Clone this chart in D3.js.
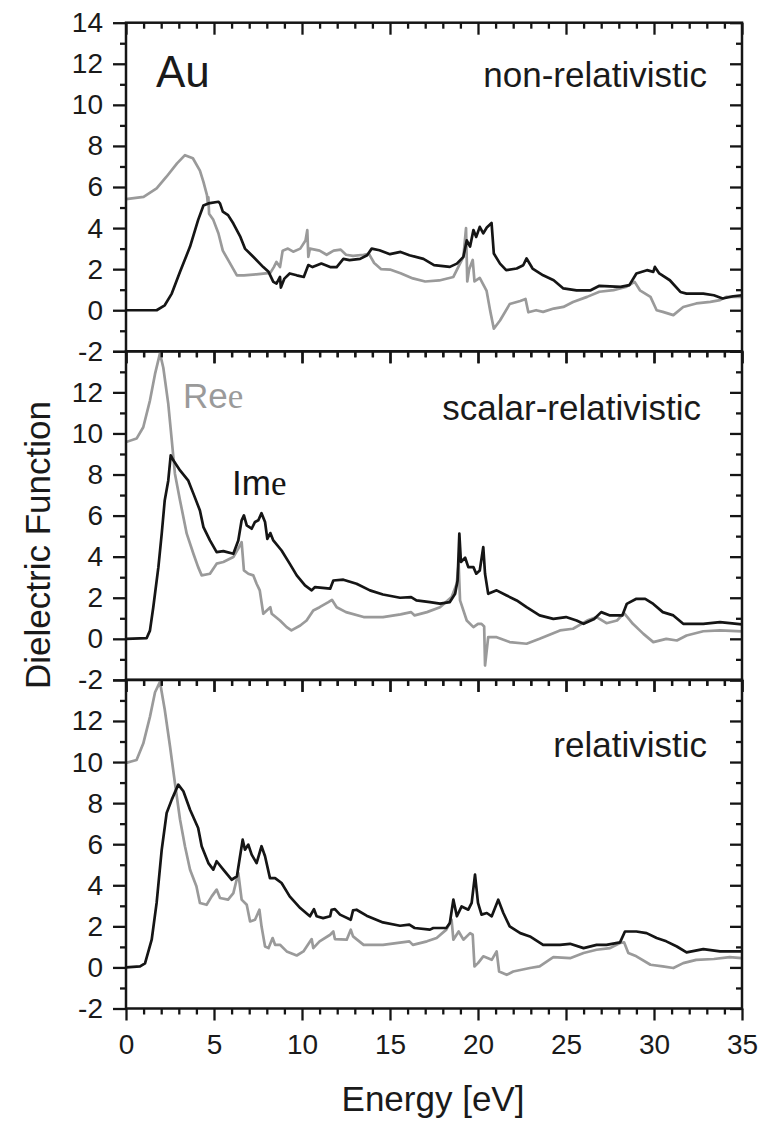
<!DOCTYPE html>
<html><head><meta charset="utf-8">
<script src="https://cdn.jsdelivr.net/npm/d3@7"></script>
<style>
body{margin:0;background:#fff}
svg{display:block}
text{font-family:"Liberation Sans",Arial,Helvetica,sans-serif;fill:#1a1a1a}
</style>
</head><body>
<svg id="c" width="771" height="1123"></svg>
<script>
// ---------- data ----------
const panelNames = ["non-relativistic", "scalar-relativistic", "relativistic"];
const xTicks = [0, 5, 10, 15, 20, 25, 30, 35];
const yTicks = [-2, 0, 2, 4, 6, 8, 10, 12, 14];

const nonRelRe = [[0,5.41],[1,5.52],[1.74,5.93],[2.3,6.5],[2.9,7.15],[3.35,7.55],[3.8,7.4],[4.2,6.8],[4.4,6.25],[4.6,5.6],[4.65,5.2],[4.68,5.5],[4.72,4.7],[4.96,4.4],[5.25,3.75],[5.5,2.9],[5.8,2.45],[6.3,1.7],[6.7,1.7],[7.4,1.75],[8.2,1.82],[8.4,2.1],[8.55,2.35],[8.75,2.1],[8.9,2.9],[9.2,3.0],[9.5,2.85],[9.9,3.0],[10.2,3.4],[10.3,3.9],[10.36,2.6],[10.45,3.0],[11.0,2.9],[11.4,2.7],[11.8,2.9],[12.2,2.95],[12.5,2.7],[12.9,2.65],[13.5,2.7],[13.8,2.75],[13.9,2.6],[14.1,2.3],[14.5,2.0],[15.0,1.98],[15.6,1.8],[16.3,1.55],[17.0,1.4],[17.8,1.45],[18.6,1.62],[19.17,2.6],[19.32,4.0],[19.39,1.4],[19.5,2.0],[19.7,2.45],[19.8,1.4],[20.1,1.57],[20.49,0.94],[20.69,-0.02],[20.9,-0.9],[21.25,-0.5],[21.8,0.3],[22.4,0.45],[22.7,0.55],[22.86,-0.1],[23.3,0],[23.7,-0.08],[24.3,0.08],[24.85,0.16],[25.4,0.4],[26.2,0.65],[26.9,0.9],[27.7,0.98],[28.4,1.13],[28.9,1.38],[29.2,0.97],[29.8,0.65],[30.15,0],[30.5,-0.08],[31.1,-0.24],[31.66,0.16],[32.4,0.33],[33.2,0.41],[33.75,0.49],[34.1,0.65],[35,0.65]];
const nonRelIm = [[0,0],[1.74,0],[2.2,0.24],[2.6,0.81],[3.07,1.87],[3.64,3.1],[4.1,4.4],[4.4,5.1],[4.68,5.2],[5.25,5.28],[5.34,5.2],[5.5,4.8],[5.8,4.63],[6.1,4.22],[6.5,3.57],[6.76,3.0],[7.23,2.6],[7.8,2.1],[8.1,1.87],[8.37,1.38],[8.55,1.3],[8.75,1.62],[8.8,1.1],[9.0,1.54],[9.3,1.79],[9.7,1.7],[10.1,1.62],[10.36,2.2],[10.6,2.1],[11.1,2.27],[11.6,2.1],[11.97,2.1],[12.35,2.5],[12.7,2.44],[13.3,2.5],[13.7,2.68],[13.96,3.0],[14.4,2.92],[15.0,2.73],[15.6,2.84],[16.1,2.68],[16.9,2.5],[17.5,2.2],[18.4,2.11],[18.8,2.27],[19.17,2.6],[19.36,3.4],[19.55,3.1],[19.74,3.9],[19.9,3.57],[20.1,4.06],[20.3,3.74],[20.5,4.03],[20.77,4.25],[20.9,2.76],[21.25,2.27],[21.6,1.95],[22.2,2.03],[22.57,2.19],[22.76,2.52],[23.1,2.03],[23.7,1.7],[24.3,1.46],[24.85,1.06],[25.6,0.97],[26.4,0.97],[26.9,1.19],[28.1,1.14],[28.6,1.22],[29.0,1.79],[29.6,1.95],[29.96,1.87],[30.05,2.11],[30.3,1.79],[30.9,1.46],[31.5,0.89],[31.85,0.81],[32.8,0.81],[33.4,0.73],[33.9,0.57],[34.5,0.68],[35,0.73]];

const scalarRe = [[0,9.58],[0.6,9.75],[0.98,10.3],[1.36,11.6],[1.65,12.9],[1.93,13.9],[2.12,13.2],[2.4,11.45],[2.6,9.67],[2.78,8.04],[3.07,6.74],[3.45,5.12],[3.83,4.14],[4.1,3.49],[4.3,3.09],[4.77,3.17],[5.15,3.66],[5.53,3.74],[6.1,3.98],[6.38,4.39],[6.57,4.71],[6.7,3.33],[6.95,3.17],[7.23,3.09],[7.42,2.68],[7.6,2.36],[7.8,1.22],[8.0,1.38],[8.2,1.54],[8.28,1.22],[8.75,0.89],[9.13,0.57],[9.4,0.41],[9.9,0.65],[10.26,0.89],[10.64,1.38],[11.0,1.54],[11.5,1.79],[11.7,1.9],[11.97,1.54],[12.5,1.3],[13.5,1.06],[14.6,1.06],[15.6,1.19],[16.2,1.3],[16.4,1.14],[17.1,1.3],[17.84,1.54],[18.5,2.03],[18.79,2.68],[18.9,3.65],[18.98,1.87],[19.36,0.89],[19.74,0.57],[20.0,0.73],[20.2,0.73],[20.35,0.6],[20.4,-1.3],[20.58,0.08],[21.06,0.08],[21.8,-0.16],[22.76,-0.24],[23.5,0],[24.66,0.41],[25.4,0.49],[26.2,0.89],[26.74,1.06],[27.3,0.76],[27.9,0.89],[28.3,1.25],[28.8,0.73],[29.4,0.24],[29.96,-0.16],[30.7,0],[31.3,-0.08],[31.85,0.16],[32.8,0.37],[33.75,0.41],[35,0.36]];
const scalarIm = [[0,0],[1.17,0.03],[1.36,0.4],[1.55,1.54],[1.84,3.49],[2.03,5.12],[2.2,6.74],[2.4,7.7],[2.54,8.93],[2.69,8.69],[3.07,8.2],[3.54,7.7],[3.83,7.07],[4.2,6.25],[4.4,5.44],[4.77,4.79],[5.15,4.22],[5.53,4.27],[6.1,4.14],[6.38,4.79],[6.57,5.77],[6.7,6.01],[6.86,5.52],[7.14,5.36],[7.33,5.69],[7.52,5.77],[7.7,6.12],[7.9,5.69],[8.03,4.87],[8.2,5.15],[8.37,4.79],[8.84,4.3],[9.3,3.66],[9.7,3.09],[10.17,2.6],[10.55,2.36],[10.74,2.52],[11.6,2.44],[11.78,2.84],[12.35,2.88],[13.1,2.68],[13.86,2.36],[14.6,2.16],[15.57,2.0],[16.2,2.03],[16.5,1.87],[17.27,1.79],[17.84,1.71],[18.4,1.79],[18.7,2.19],[18.84,2.84],[18.94,5.12],[19.03,3.74],[19.27,3.95],[19.45,3.49],[19.74,3.49],[19.9,3.17],[20.1,3.33],[20.3,4.47],[20.4,3.17],[20.58,2.19],[21.06,2.36],[21.63,2.11],[22.2,1.87],[22.76,1.54],[23.5,1.14],[24.28,0.97],[25.0,1.06],[25.6,0.89],[26.0,0.73],[26.6,0.97],[27.0,1.3],[27.5,1.14],[28.2,1.14],[28.45,1.7],[29.0,1.95],[29.5,1.95],[29.96,1.7],[30.5,1.3],[31.1,1.14],[31.66,0.73],[32.8,0.73],[33.75,0.81],[35,0.7]];

const relRe = [[0,9.96],[0.6,10.1],[0.98,10.9],[1.36,12.2],[1.65,13.4],[1.93,13.9],[2.2,12.56],[2.5,10.77],[2.78,8.98],[3.07,7.2],[3.35,5.9],[3.64,4.76],[4.0,3.95],[4.2,3.14],[4.58,3.05],[4.87,3.46],[5.15,3.79],[5.34,3.38],[5.8,3.3],[6.1,3.62],[6.38,4.6],[6.57,3.3],[6.86,3.05],[7.05,2.24],[7.33,2.32],[7.58,2.81],[7.7,2.0],[7.9,1.02],[8.1,0.94],[8.33,1.43],[8.47,1.1],[8.75,1.1],[9.13,0.78],[9.7,0.58],[10.08,0.78],[10.55,1.38],[10.64,0.94],[11.0,1.27],[11.6,1.59],[11.78,1.75],[11.87,1.38],[12.54,1.35],[12.77,1.84],[12.9,1.51],[13.5,1.1],[14.6,1.1],[16.1,1.27],[16.3,1.1],[17.1,1.27],[17.65,1.43],[18.2,1.84],[18.5,2.32],[18.6,1.35],[18.9,1.75],[19.17,1.35],[19.55,1.67],[19.7,1.59],[19.8,0.05],[20.0,0.21],[20.3,0.54],[20.78,0.37],[21.06,0.78],[21.2,-0.2],[21.63,-0.36],[22.0,-0.2],[22.95,-0.03],[23.5,0.05],[24.28,0.5],[25.23,0.45],[26.0,0.7],[26.74,0.86],[27.5,0.94],[28.07,1.19],[28.3,1.22],[28.54,0.7],[29.0,0.54],[29.8,0.13],[30.5,0.05],[31.1,-0.03],[31.66,0.21],[32.4,0.37],[33.4,0.41],[34.3,0.5],[35,0.45]];
const relIm = [[0,0],[0.8,0.05],[1.08,0.2],[1.46,1.35],[1.74,3.14],[2.03,5.73],[2.31,7.52],[2.6,8.17],[2.97,8.9],[3.26,8.58],[3.64,7.68],[4.1,6.79],[4.3,5.9],[4.68,5.08],[4.96,4.76],[5.15,5.17],[5.53,4.76],[6.0,4.27],[6.3,4.43],[6.48,5.41],[6.63,6.22],[6.76,5.73],[6.95,5.98],[7.14,5.49],[7.42,5.08],[7.7,5.9],[7.9,5.41],[8.18,4.35],[8.47,4.35],[8.84,4.11],[9.3,3.46],[9.9,2.89],[10.45,2.49],[10.68,2.84],[10.83,2.49],[11.2,2.4],[11.6,2.49],[11.68,2.81],[11.87,2.84],[12.16,2.57],[12.77,2.32],[12.9,2.78],[13.1,2.81],[13.67,2.52],[14.6,2.19],[15.57,2.03],[16.1,2.08],[16.4,1.92],[17.27,1.84],[17.46,1.92],[18.2,1.92],[18.4,2.16],[18.6,3.3],[18.8,2.49],[19.07,2.97],[19.45,2.81],[19.64,3.14],[19.83,4.52],[20.0,3.14],[20.2,2.57],[20.5,2.65],[20.78,2.49],[21.15,3.3],[21.44,2.65],[21.8,2.0],[22.4,1.67],[22.95,1.51],[23.7,1.1],[24.66,1.1],[25.23,1.15],[26.0,0.94],[26.74,1.1],[27.3,1.1],[28.07,1.22],[28.35,1.75],[29.0,1.75],[29.58,1.67],[30.15,1.43],[30.7,1.27],[31.3,1.02],[31.85,0.73],[32.8,0.89],[33.75,0.78],[35,0.78]];

const reSeries = [nonRelRe, scalarRe, relRe];
const imSeries = [nonRelIm, scalarIm, relIm];

// ---------- drawing ----------
const svg = d3.select("#c");
const L = 126, R = 742, T0 = 22.7, PH = 328.6;
const GREY = "#9a9a9a", BLACK = "#151515";
const x = d3.scaleLinear().domain([0, 35]).range([L, R]);
const xMinor = d3.range(0, 36, 1).filter(v => v % 5 !== 0);
const yMinor = d3.range(-1, 14, 2);

panelNames.forEach((name, i) => {
  const top = T0 + i * PH, bot = top + PH;
  const y = d3.scaleLinear().domain([-2, 14]).range([bot, top]);
  const g = svg.append("g");

  const cid = "clip" + i;
  svg.append("clipPath").attr("id", cid).append("rect")
    .attr("x", L).attr("y", top).attr("width", R - L).attr("height", PH);

  const line = d3.line().x(d => x(d[0])).y(d => y(d[1]));
  const lg = g.append("g").attr("clip-path", `url(#${cid})`);
  lg.append("path").datum(reSeries[i]).attr("d", line)
    .attr("fill", "none").attr("stroke", GREY).attr("stroke-width", 2.7).attr("stroke-linejoin", "round");
  lg.append("path").datum(imSeries[i]).attr("d", line)
    .attr("fill", "none").attr("stroke", BLACK).attr("stroke-width", 2.7).attr("stroke-linejoin", "round");

  const styleAxis = sel => {
    sel.select(".domain").remove();
    sel.selectAll("line").attr("stroke", BLACK).attr("stroke-width", 2.3);
    sel.selectAll("text").attr("font-size", 28).attr("fill", BLACK)
      .attr("font-family", '"Liberation Sans",Arial,sans-serif');
  };

  // left axis (outward)
  g.append("g").attr("transform", `translate(${L},0)`)
    .call(d3.axisLeft(y).tickValues(yTicks).tickSize(13).tickPadding(10)
      .tickFormat(d => (i > 0 && d === 14) ? "" : String(d)))
    .call(styleAxis);
  g.append("g").attr("transform", `translate(${L},0)`)
    .call(d3.axisLeft(y).tickValues(yMinor).tickSize(6).tickFormat(""))
    .call(styleAxis);
  // right axis (inward)
  g.append("g").attr("transform", `translate(${R},0)`)
    .call(d3.axisRight(y).tickValues(yTicks).tickSize(-12).tickFormat(""))
    .call(styleAxis);
  g.append("g").attr("transform", `translate(${R},0)`)
    .call(d3.axisRight(y).tickValues(yMinor).tickSize(-6).tickFormat(""))
    .call(styleAxis);
  // top axis (inward)
  g.append("g").attr("transform", `translate(0,${top})`)
    .call(d3.axisTop(x).tickValues(xTicks).tickSize(-12).tickFormat(""))
    .call(styleAxis);
  g.append("g").attr("transform", `translate(0,${top})`)
    .call(d3.axisTop(x).tickValues(xMinor).tickSize(-6).tickFormat(""))
    .call(styleAxis);
  // bottom axis (outward)
  g.append("g").attr("transform", `translate(0,${bot})`)
    .call(d3.axisBottom(x).tickValues(xTicks).tickSize(12).tickPadding(14)
      .tickFormat(d => i === 2 ? String(d) : ""))
    .call(styleAxis);
  g.append("g").attr("transform", `translate(0,${bot})`)
    .call(d3.axisBottom(x).tickValues(xMinor).tickSize(6).tickFormat(""))
    .call(styleAxis);

  // frame
  g.append("rect").attr("x", L).attr("y", top).attr("width", R - L).attr("height", PH)
    .attr("fill", "none").attr("stroke", BLACK).attr("stroke-width", 2.5);
});

// panel labels
const labelPos = [[707, 87], [701, 420], [707, 757]];
panelNames.forEach((name, i) => {
  svg.append("text").attr("x", labelPos[i][0]).attr("y", labelPos[i][1])
    .attr("text-anchor", "end").attr("font-size", 35).text(name);
});
svg.append("text").attr("x", 156).attr("y", 87).attr("font-size", 44).text("Au");

const reLab = svg.append("text").attr("x", 183).attr("y", 408).attr("font-size", 35).style("fill", GREY);
reLab.append("tspan").text("Re");
reLab.append("tspan").style("font-family", '"Liberation Serif","Times New Roman",serif').style("fill", GREY).text("e");
const imLab = svg.append("text").attr("x", 232).attr("y", 495).attr("font-size", 35).style("fill", BLACK);
imLab.append("tspan").text("Im");
imLab.append("tspan").style("font-family", '"Liberation Serif","Times New Roman",serif').text("e");

// axis titles
svg.append("text").attr("transform", "translate(50,545) rotate(-90)")
  .attr("text-anchor", "middle").attr("font-size", 35).text("Dielectric Function");
svg.append("text").attr("x", 433).attr("y", 1111)
  .attr("text-anchor", "middle").attr("font-size", 35).text("Energy [eV]");
</script>
</body></html>
